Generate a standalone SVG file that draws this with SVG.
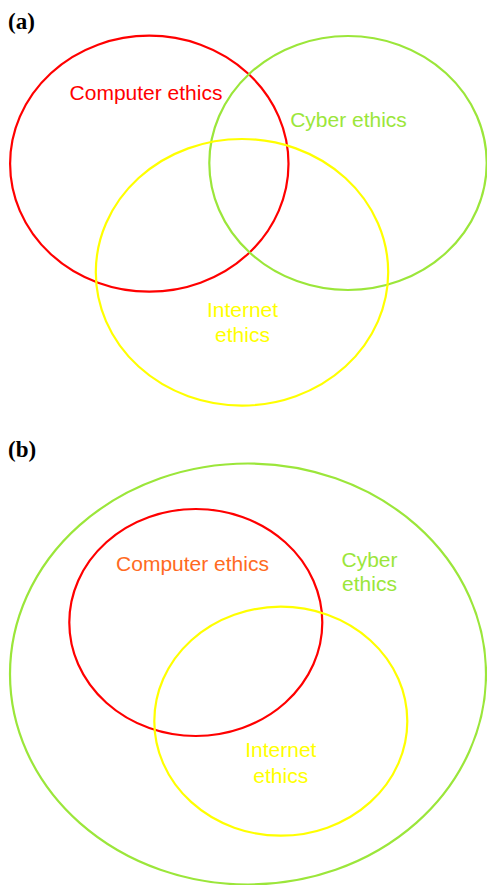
<svg xmlns="http://www.w3.org/2000/svg" width="487" height="885" viewBox="0 0 487 885">
  <style>
    .ring { fill: none; stroke-width: 2.2; }
    .red { stroke: #FF0000; }
    .green { stroke: #9BE63A; }
    .yellow { stroke: #FFFF00; }
    .lbl { font-family: "Liberation Sans", Arial, sans-serif; font-size: 21px; text-anchor: middle; }
    .panel { font-family: "Liberation Serif", "Times New Roman", serif; font-size: 23px; font-weight: bold; fill: #000; }
  </style>
  <rect width="487" height="885" fill="#FFFFFF"/>

  <!-- Panel (a): three overlapping fields -->
  <text class="panel" x="8" y="29">(a)</text>
  <g id="a-computer">
    <ellipse class="ring red" cx="149.3" cy="163.7" rx="139.2" ry="128"/>
    <text class="lbl" x="146" y="100" fill="#FF0000">Computer ethics</text>
  </g>
  <g id="a-cyber">
    <ellipse class="ring green" cx="348" cy="163" rx="138.7" ry="127"/>
    <text class="lbl" x="348.5" y="126.7" fill="#9BE63A">Cyber ethics</text>
  </g>
  <g id="a-internet">
    <ellipse class="ring yellow" cx="242" cy="272.3" rx="146.2" ry="133.3"/>
    <text class="lbl" x="242.5" y="317.3" fill="#FFFF00">Internet</text>
    <text class="lbl" x="242.5" y="341.7" fill="#FFFF00">ethics</text>
  </g>

  <!-- Panel (b): cyber ethics enclosing the other two -->
  <text class="panel" x="8" y="456.7">(b)</text>
  <g id="b-cyber">
    <ellipse class="ring green" cx="248" cy="674" rx="238" ry="210.5"/>
    <text class="lbl" x="369.5" y="566.7" fill="#9BE63A">Cyber</text>
    <text class="lbl" x="369.5" y="591" fill="#9BE63A">ethics</text>
  </g>
  <g id="b-computer">
    <ellipse class="ring red" cx="195.8" cy="622.5" rx="126.5" ry="113.5"/>
    <text class="lbl" x="192.5" y="570.7" fill="#FF6A22">Computer ethics</text>
  </g>
  <g id="b-internet">
    <ellipse class="ring yellow" cx="280.8" cy="721.2" rx="126.5" ry="114.5"/>
    <text class="lbl" x="280.8" y="757.3" fill="#FFFF00">Internet</text>
    <text class="lbl" x="280.8" y="783.3" fill="#FFFF00">ethics</text>
  </g>

  <g id="connectors"></g>
</svg>
